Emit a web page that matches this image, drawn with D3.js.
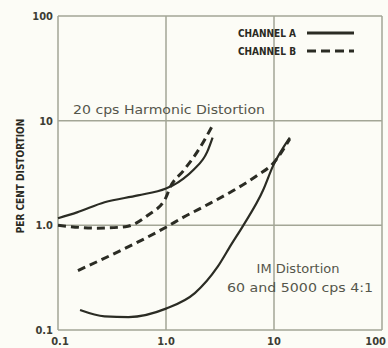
<!DOCTYPE html>
<html>
<head>
<meta charset="utf-8">
<script src="https://cdn.jsdelivr.net/npm/d3@7"></script>
<style>
  body { margin: 0; background: #fcfcf6; }
  svg { display: block; }
  .grid line { stroke: #a3a696; stroke-width: 1.5; }
  .tick-label { font-family: "DejaVu Sans Condensed", "Liberation Sans Narrow", sans-serif; font-weight: bold; font-size: 11px; fill: #3c3d34; }
  .note { font-family: "DejaVu Sans", sans-serif; font-size: 13px; fill: #55564b; }
  .legend { font-family: "DejaVu Sans Condensed", "Liberation Sans Narrow", sans-serif; font-weight: bold; font-size: 10px; fill: #2a2a22; }
</style>
</head>
<body>
<div id="chart"></div>
<script>
var svgWidth = 388;
var svgHeight = 348;

// decade tick values and their labels
var tickValues = [0.1, 1, 10, 100];
var xTickLabels = ["0.1", "1.0", "10", "100"];
var yTickLabels = ["0.1", "1.0", "10", "100"];

// 20 cps harmonic distortion
var harmAx = [0.1, 0.15, 0.27, 0.55, 1.0, 1.15, 1.45, 1.8, 2.4, 2.7];
var harmAy = [1.17, 1.33, 1.66, 1.93, 2.25, 2.4, 2.8, 3.4, 5.0, 6.9];
var harmBx = [0.1, 0.23, 0.42, 0.68, 1.0, 1.09, 1.44, 1.94, 2.7];
var harmBy = [1.0, 0.94, 0.97, 1.25, 1.85, 2.3, 3.3, 5.0, 9.0];

// IM distortion 60 and 5000 cps 4:1
var imAx = [0.16, 0.27, 0.45, 1.0, 1.85, 3.0, 4.0, 5.2, 7.9, 9.8, 14];
var imAy = [0.155, 0.135, 0.133, 0.16, 0.225, 0.4, 0.65, 1.0, 2.15, 3.7, 6.9];
var imBx = [0.153, 1.0, 1.44, 2.55, 4.2, 7.0, 9.8, 14];
var imBy = [0.37, 0.96, 1.19, 1.62, 2.15, 3.0, 3.9, 6.7];

var svg = d3.select("#chart")
  .append("svg")
  .attr("width", svgWidth)
  .attr("height", svgHeight);

var x = d3.scaleLog().domain([0.1, 100]).range([58, 382]);
var y = d3.scaleLog().domain([0.1, 100]).range([330, 16]);

// grid and frame
var grid = svg.append("g").attr("class", "grid");
grid.selectAll("line.v")
  .data(tickValues)
  .enter()
  .append("line")
  .attr("x1", d => x(d))
  .attr("x2", d => x(d))
  .attr("y1", y(100))
  .attr("y2", y(0.1));
grid.selectAll("line.h")
  .data(tickValues)
  .enter()
  .append("line")
  .attr("x1", x(0.1))
  .attr("x2", x(100))
  .attr("y1", d => y(d))
  .attr("y2", d => y(d));

// tick labels
svg.selectAll("text.xl")
  .data(tickValues)
  .enter()
  .append("text")
  .attr("class", "tick-label")
  .attr("x", d => x(d))
  .attr("y", 345)
  .attr("text-anchor", (d, i) => i == 3 ? "end" : "middle")
  .attr("dx", (d, i) => i == 0 ? 2 : (i == 3 ? 4 : 0))
  .text((d, i) => xTickLabels[i]);

svg.selectAll("text.yl")
  .data(tickValues)
  .enter()
  .append("text")
  .attr("class", "tick-label")
  .attr("x", 53)
  .attr("y", d => y(d))
  .attr("dy", "0.35em")
  .attr("text-anchor", "end")
  .text((d, i) => yTickLabels[i]);

svg.append("text")
  .attr("class", "legend")
  .attr("transform", `translate(24, 176) rotate(-90)`)
  .attr("text-anchor", "middle")
  .attr("font-size", "9px")
  .text("PER CENT DISTORTION");

// curves
var line = d3.line()
  .x(d => x(d[0]))
  .y(d => y(d[1]))
  .curve(d3.curveMonotoneX);

function series(xs, ys) {
  return xs.map((v, i) => [v, ys[i]]);
}

var curves = [
  { data: series(harmAx, harmAy), dash: null },
  { data: series(harmBx, harmBy), dash: "8,5" },
  { data: series(imAx, imAy), dash: null },
  { data: series(imBx, imBy), dash: "8,5" }
];

svg.selectAll("path.curve")
  .data(curves)
  .enter()
  .append("path")
  .attr("d", d => line(d.data))
  .attr("fill", "none")
  .attr("stroke", "#2b2c24")
  .attr("stroke-width", d => d.dash ? 3 : 2.2)
  .attr("stroke-dasharray", d => d.dash);

// annotations
svg.append("text")
  .attr("class", "note")
  .attr("x", 73)
  .attr("y", 114)
  .attr("textLength", 192)
  .attr("lengthAdjust", "spacingAndGlyphs")
  .text("20 cps Harmonic Distortion");

svg.append("text")
  .attr("class", "note")
  .attr("x", 298)
  .attr("y", 273)
  .attr("text-anchor", "middle")
  .text("IM Distortion");

svg.append("text")
  .attr("class", "note")
  .attr("x", 227)
  .attr("y", 292)
  .attr("textLength", 146)
  .attr("lengthAdjust", "spacingAndGlyphs")
  .text("60 and 5000 cps 4:1");

// legend
var legendItems = [
  { name: "CHANNEL A", dash: null, y: 37 },
  { name: "CHANNEL B", dash: "9,5", y: 55 }
];

var legend = svg.append("g");
legend.selectAll("text")
  .data(legendItems)
  .enter()
  .append("text")
  .attr("class", "legend")
  .attr("x", 296)
  .attr("y", d => d.y)
  .attr("text-anchor", "end")
  .text(d => d.name);

legend.selectAll("line")
  .data(legendItems)
  .enter()
  .append("line")
  .attr("x1", 307)
  .attr("x2", 354)
  .attr("y1", d => d.y - 4)
  .attr("y2", d => d.y - 4)
  .attr("stroke", "#2b2c24")
  .attr("stroke-width", 3)
  .attr("stroke-dasharray", d => d.dash);
</script>
</body>
</html>
